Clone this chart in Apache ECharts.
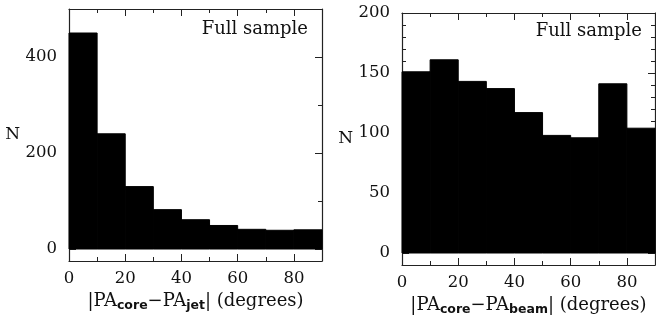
<!DOCTYPE html>
<html>
<head>
<meta charset="utf-8">
<script src="https://cdn.jsdelivr.net/npm/echarts@6/dist/echarts.min.js"></script>
<style>html,body{margin:0;padding:0;background:#fff;}#c{width:656px;height:327px;}</style>
</head>
<body>
<div id="c"></div>
<script>
// ---- data ----
const binStarts = [0, 10, 20, 30, 40, 50, 60, 70, 80];
const binWidth = 10;
const jetCounts = [450, 240, 130, 82, 61, 49, 41, 39, 40];
const beamCounts = [151, 161, 143, 137, 117, 98, 96, 141, 104];
const xMajorTicks = [0, 20, 40, 60, 80];
const xMinorTicks = [10, 30, 50, 70];
const jetYMajor = [0, 200, 400];
const jetYMinor = [100, 300];
const beamYMajor = [0, 50, 100, 150, 200];
const beamYMinor = [10, 20, 30, 40, 60, 70, 80, 90, 110, 120, 130, 140, 160, 170, 180, 190];
const panelLabel = 'Full sample';

const serif = 'DejaVu Serif';
const frameColor = '#222';

function histData(counts) {
  return counts.map((c, i) => [binStarts[i], binStarts[i] + binWidth, c]);
}

function axisPair(kind, gi, position, major, minor, range, withLabels, extra) {
  const base = {
    gridIndex: gi, type: 'value', min: range[0], max: range[1], position: position,
    splitLine: {show: false}, scale: true
  };
  const main = Object.assign({}, base, {
    axisLine: {show: true, onZero: false, lineStyle: {color: frameColor, width: 1.2}},
    axisTick: {show: true, inside: true, length: 7, customValues: major, lineStyle: {color: frameColor, width: 1}},
    axisLabel: withLabels ? {show: true, customValues: major, fontFamily: serif, fontSize: 16.5, color: '#111', margin: kind === 'x' ? 9 : 12} : {show: false}
  }, extra || {});
  const min = Object.assign({}, base, {
    axisLine: {show: false, onZero: false},
    axisTick: {show: true, inside: true, length: 4, customValues: minor, lineStyle: {color: frameColor, width: 1}},
    axisLabel: {show: false}
  });
  return [main, min];
}

const xRange = [0, 90];
const panels = [
  {counts: jetCounts, yRange: [-25, 500], yMajor: jetYMajor, yMinor: jetYMinor, sub: 'jet'},
  {counts: beamCounts, yRange: [-10, 200], yMajor: beamYMajor, yMinor: beamYMinor, sub: 'beam'}
];

const xAxis = [], yAxis = [], series = [];
panels.forEach((p, gi) => {
  const xi = xAxis.length, yi = yAxis.length;
  xAxis.push(...axisPair('x', gi, 'bottom', xMajorTicks, xMinorTicks, xRange, true, {
    name: '{m||PA}{s|core}{m|\u2212PA}{s|' + p.sub + '}{m|| (degrees)}',
    nameLocation: 'middle', nameGap: 29,
    nameTextStyle: {
      rich: {
        m: {fontFamily: serif, fontSize: 18, color: '#111', lineHeight: 22, verticalAlign: 'middle'},
        s: {fontFamily: 'DejaVu Sans', fontWeight: 'bold', fontSize: 12.5, color: '#111', lineHeight: 10, verticalAlign: 'bottom'}
      }
    }
  }));
  xAxis.push(...axisPair('x', gi, 'top', xMajorTicks, xMinorTicks, xRange, false));
  yAxis.push(...axisPair('y', gi, 'left', p.yMajor, p.yMinor, p.yRange, true, {
    name: 'N', nameLocation: 'middle', nameRotate: 0, nameGap: 49,
    nameTextStyle: {fontFamily: serif, fontSize: 17, color: '#111', align: 'right'}
  }));
  yAxis.push(...axisPair('y', gi, 'right', p.yMajor, p.yMinor, p.yRange, false));
  series.push({
    type: 'custom', xAxisIndex: xi, yAxisIndex: yi,
    data: histData(p.counts),
    encode: {x: [0, 1], y: 2},
    renderItem: function (params, api) {
      const a = api.coord([api.value(0), api.value(2)]);
      const b = api.coord([api.value(1), 0]);
      return {type: 'rect', shape: {x: a[0], y: a[1], width: b[0] - a[0], height: b[1] - a[1]},
        style: {fill: '#000', stroke: '#000', lineWidth: 1}};
    },
    silent: true, animation: false, z: 1
  });
});

const chart = echarts.init(document.getElementById('c'), null, {renderer: 'canvas'});
chart.setOption({
  animation: false,
  backgroundColor: '#fff',
  grid: [
    {left: 69, top: 9, width: 253, height: 252},
    {left: 402, top: 13, width: 253, height: 252}
  ],
  xAxis: xAxis,
  yAxis: yAxis,
  series: series,
  graphic: [
    {type: 'text', right: 656 - 308, top: 20, style: {text: panelLabel, fontFamily: serif, fontSize: 18, fill: '#111'}},
    {type: 'text', right: 656 - 642, top: 22, style: {text: panelLabel, fontFamily: serif, fontSize: 18, fill: '#111'}}
  ]
});
</script>
</body>
</html>
